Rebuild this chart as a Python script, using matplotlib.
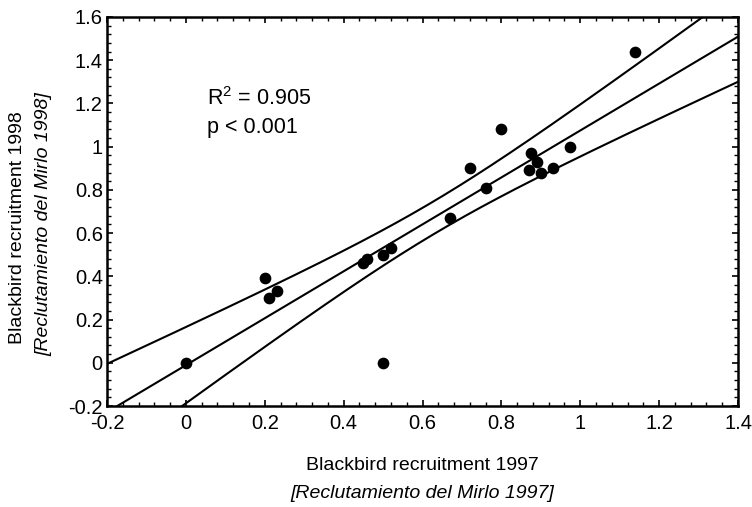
import numpy as np
import matplotlib
matplotlib.use('Agg')
import matplotlib.pyplot as plt
from matplotlib.ticker import MultipleLocator

plt.rcParams['font.family'] = ['Liberation Sans', 'DejaVu Sans']
plt.rcParams['mathtext.default'] = 'regular'

# recruitment values
recruit_1997 = [0.00, 0.20, 0.21, 0.23, 0.45, 0.46, 0.50, 0.52, 0.50,
                0.67, 0.72, 0.76, 0.80, 0.875, 0.89, 0.87, 0.90, 0.93,
                0.975, 1.14]
recruit_1998 = [0.00, 0.39, 0.30, 0.33, 0.46, 0.48, 0.50, 0.53, 0.00,
                0.67, 0.90, 0.81, 1.08, 0.97, 0.93, 0.89, 0.88, 0.90,
                1.00, 1.44]
x_ticks = [-0.2, 0, 0.2, 0.4, 0.6, 0.8, 1, 1.2, 1.4]
y_ticks = [-0.2, 0, 0.2, 0.4, 0.6, 0.8, 1, 1.2, 1.4, 1.6]
r2_text = "R$^{2}$ = 0.905"
p_text = "p < 0.001"

x = np.array(recruit_1997)
y = np.array(recruit_1998)

# linear fit with 95% confidence band of the mean
n = len(x)
slope, intercept = np.polyfit(x, y, 1)
resid = y - (slope * x + intercept)
s = np.sqrt(np.sum(resid ** 2) / (n - 2))
t_crit = 2.101  # t(0.975, df=18)
xx = np.linspace(-0.2, 1.4, 200)
yy = slope * xx + intercept
se = s * np.sqrt(1 / n + (xx - x.mean()) ** 2 / np.sum((x - x.mean()) ** 2))

fig = plt.figure(figsize=(7.52, 5.07), dpi=100)
ax = fig.add_axes([0.1423, 0.1992, 0.8391, 0.7673])

ax.plot(xx, yy, color='black', lw=1.5)
ax.plot(xx, yy + t_crit * se, color='black', lw=1.5)
ax.plot(xx, yy - t_crit * se, color='black', lw=1.5)
ax.scatter(x, y, s=55, color='black', zorder=3)

ax.set_xlim(-0.2, 1.4)
ax.set_ylim(-0.2, 1.6)
ax.set_xticks(x_ticks)
ax.set_xticklabels([f"{v:g}" for v in x_ticks])
ax.set_yticks(y_ticks)
ax.set_yticklabels([f"{v:g}" for v in y_ticks])
ax.xaxis.set_minor_locator(MultipleLocator(0.04))
ax.yaxis.set_minor_locator(MultipleLocator(0.04))
ax.tick_params(which='both', direction='in', top=True, right=True, labelsize=14.5)
ax.tick_params(which='major', length=4, width=1.2)
ax.tick_params(which='minor', length=3, width=1)
ax.tick_params(axis='x', pad=6)
ax.tick_params(axis='y', pad=3)
for sp in ax.spines.values():
    sp.set_linewidth(1.8)

ax.text(0.054, 1.194, r2_text, fontsize=15.5, va='baseline', ha='left')
ax.text(0.054, 1.064, p_text, fontsize=15.5, va='baseline', ha='left')

fig.text(18 / 752, 1 - 228 / 507, "Blackbird recruitment 1998", rotation=90,
         ha='center', va='center', fontsize=14)
fig.text(44 / 752, 1 - 224 / 507, "[Reclutamiento del Mirlo 1998]", rotation=90,
         ha='center', va='center', fontsize=14, style='italic')
fig.text(422 / 752, 1 - 466 / 507, "Blackbird recruitment 1997",
         ha='center', va='center', fontsize=14)
fig.text(422 / 752, 1 - 494 / 507, "[Reclutamiento del Mirlo 1997]",
         ha='center', va='center', fontsize=14, style='italic')

fig.savefig('out.png', dpi=100)
